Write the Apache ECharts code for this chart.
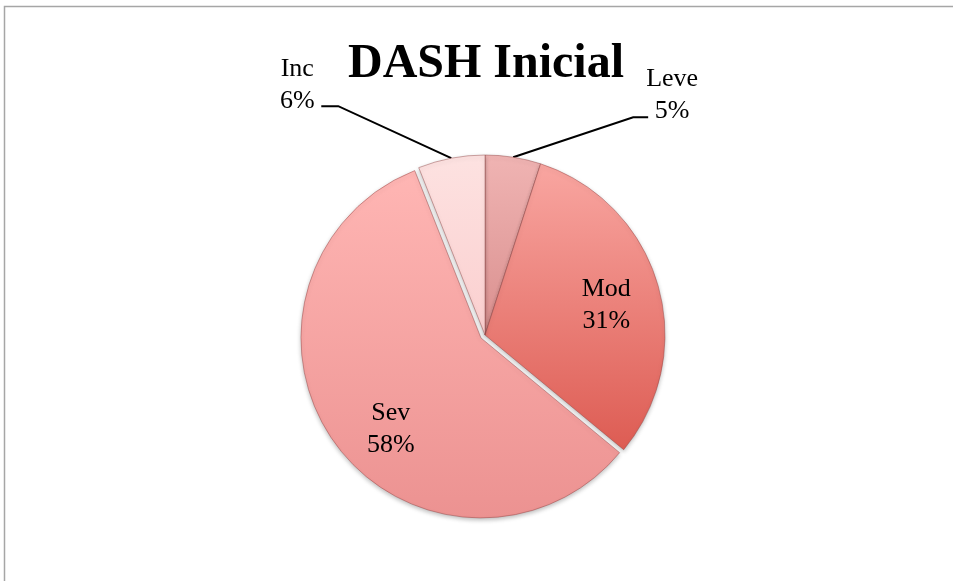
<!DOCTYPE html>
<html>
<head>
<meta charset="utf-8">
<script src="https://cdn.jsdelivr.net/npm/echarts@6/dist/echarts.min.js"></script>
<style>
  html, body { margin: 0; padding: 0; background: #ffffff; }
  #chart { width: 953px; height: 581px; }
</style>
</head>
<body>
<div id="chart"></div>
<script>
// ---- data ----
const titleText = 'DASH Inicial';
const categories = ['Leve', 'Mod', 'Sev', 'Inc'];
const percents = [5, 31, 58, 6];
const explodedCategory = 'Sev';

// ---- styles (kept separate from data) ----
const FONT = '"Liberation Serif", "DejaVu Serif", serif';
const sliceColors = {
  Leve: ['#f0b4b3', '#d98f8e'],
  Mod:  ['#f9a6a1', '#dd5c53'],
  Sev:  ['#ffb6b4', '#ec9291'],
  Inc:  ['#fde2e1', '#fbcfcf']
};
const insideShift = { Mod: [32, -4], Sev: [-15, 37] };
const outsideLines = {
  Leve: { d1: [120, -40], d2: [15, 0], lab: [24, -22] },
  Inc:  { d1: [-113, -52], d2: [-17, 0], lab: [-24, -21] }
};

function grad(c) {
  return {
    type: 'linear', x: 0, y: 0, x2: 0, y2: 1,
    colorStops: [{ offset: 0, color: c[0] }, { offset: 1, color: c[1] }]
  };
}

const seriesData = categories.map((name, i) => {
  const item = {
    name: name,
    value: percents[i],
    selected: name === explodedCategory,
    itemStyle: { color: grad(sliceColors[name]) }
  };
  if (outsideLines[name]) {
    item.label = { position: 'outside' };
    item.labelLine = { show: true };
  } else {
    item.label = { position: 'inside' };
    item.labelLine = { show: false };
  }
  return item;
});

const chart = echarts.init(document.getElementById('chart'), null, { renderer: 'canvas' });

chart.setOption({
  backgroundColor: '#ffffff',
  animation: false,
  title: {
    text: titleText,
    left: 481,
    textAlign: 'center',
    top: 36,
    textStyle: { fontFamily: FONT, fontSize: 48, fontWeight: 'bold', color: '#000000' }
  },
  graphic: [{
    type: 'rect',
    shape: { x: 4.5, y: 6.5, width: 1200, height: 1000 },
    style: { fill: 'none', stroke: '#a6a6a6', lineWidth: 1.5 },
    silent: true
  }],
  series: [{
    type: 'pie',
    center: [485, 335],
    radius: 180,
    startAngle: 90,
    clockwise: true,
    selectedMode: 'multiple',
    selectedOffset: 5,
    avoidLabelOverlap: false,
    itemStyle: {
      borderColor: 'rgba(140,60,60,0.55)',
      borderWidth: 0.8,
      shadowBlur: 4,
      shadowOffsetY: 2,
      shadowColor: 'rgba(0,0,0,0.25)'
    },
    label: {
      show: true,
      formatter: '{b}\n{c}%',
      fontFamily: FONT,
      fontSize: 26,
      lineHeight: 32,
      color: '#000000',
      align: 'center'
    },
    labelLine: {
      lineStyle: { color: '#000000', width: 2 },
      length: 10,
      length2: 10
    },
    emphasis: { disabled: true },
    labelLayout: function (params) {
      const name = categories[params.dataIndex];
      const shift = insideShift[name];
      if (shift) {
        return { dx: shift[0], dy: shift[1] };
      }
      const cfg = outsideLines[name];
      if (!cfg || !params.labelLinePoints) return {};
      const p0 = params.labelLinePoints[0];
      const p1 = [p0[0] + cfg.d1[0], p0[1] + cfg.d1[1]];
      const p2 = [p1[0] + cfg.d2[0], p1[1] + cfg.d2[1]];
      return {
        x: p2[0] + cfg.lab[0],
        y: p2[1] + cfg.lab[1],
        align: 'center',
        verticalAlign: 'middle',
        labelLinePoints: [p0, p1, p2]
      };
    },
    data: seriesData
  }]
});
</script>
</body>
</html>
